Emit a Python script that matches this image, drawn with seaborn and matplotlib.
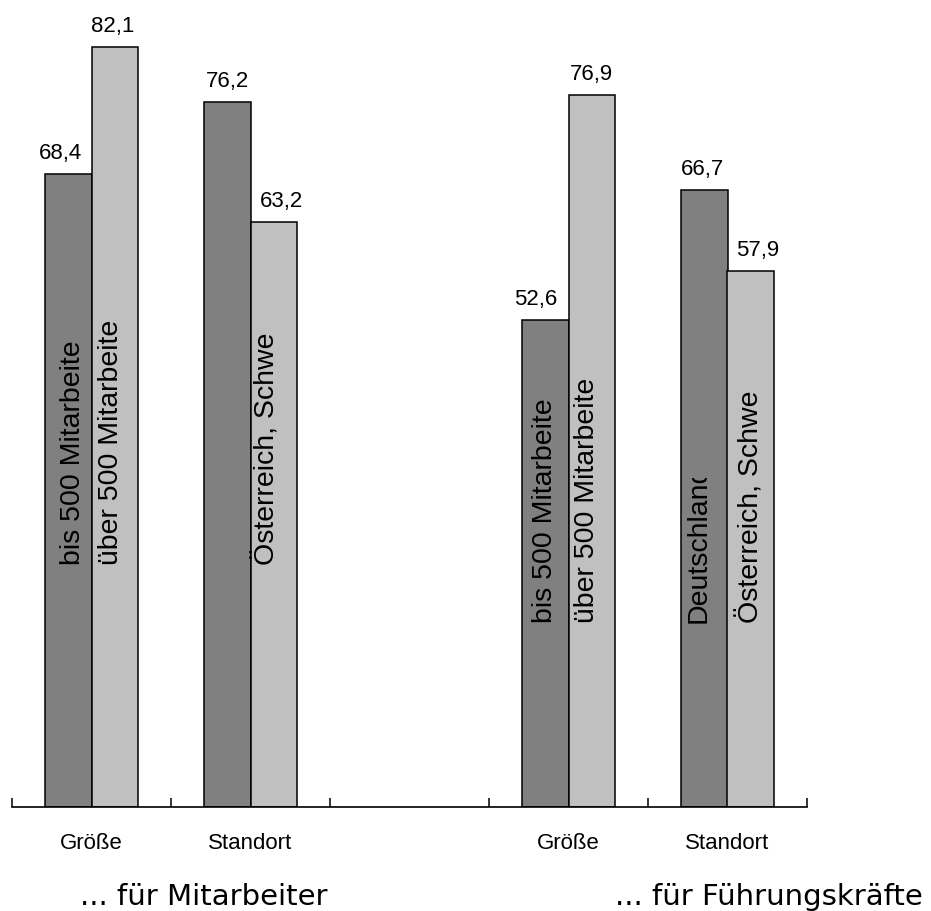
import matplotlib
matplotlib.use("Agg")
import matplotlib.pyplot as plt
from matplotlib.transforms import Bbox, TransformedBbox
import numpy as np
import pandas as pd
import seaborn as sns

# Category slots along the x axis (the middle slot stays empty as a separator)
slots = ["Mitarbeiter|Größe", "Mitarbeiter|Standort", "leer",
         "Führungskräfte|Größe", "Führungskräfte|Standort"]
slot_ticklabels = ["Größe", "Standort", "", "Größe", "Standort"]
bar_slots = ["Mitarbeiter|Größe", "Mitarbeiter|Standort",
             "Führungskräfte|Größe", "Führungskräfte|Standort"]

# Two series per slot: the smaller companies / Germany, the larger ones / AT, CH
series = ["A", "B"]
values_a = [68.4, 76.2, 52.6, 66.7]
values_b = [82.1, 63.2, 76.9, 57.9]

# Text written inside the bars
inner_a = ["bis 500 Mitarbeite", None, "bis 500 Mitarbeite", "Deutschland"]
inner_b = ["über 500 Mitarbeite", "Österreich, Schwe", "über 500 Mitarbeite", "Österreich, Schwe"]

group_titles = ["... für Mitarbeiter", "... für Führungskräfte"]

df = pd.DataFrame({
    "slot": bar_slots * 2,
    "serie": [series[0]] * 4 + [series[1]] * 4,
    "wert": values_a + values_b,
    "innen": inner_a + inner_b,
})

sns.set_theme(style="white")
plt.rcParams["font.family"] = ["Liberation Sans", "DejaVu Sans"]

W, H, DPI = 931, 912, 100
PX = 72 / DPI  # points per pixel
fig = plt.figure(figsize=(W / DPI, H / DPI), dpi=DPI)
ax_left, ax_right, ax_bottom = 12, 807, 808
ax = fig.add_axes([ax_left / W, (H - ax_bottom) / H, (ax_right - ax_left) / W, ax_bottom / H])

sns.barplot(data=df, x="slot", y="wert", hue="serie", order=slots,
            hue_order=series, palette=["#808080", "#c0c0c0"], width=0.58,
            edgecolor="black", linewidth=1.1, legend=False, ax=ax)

ax.set_xlim(-0.5, len(slots) - 0.5)
ax.set_ylim(0, 87.3)
ax.set_xlabel("")
ax.set_ylabel("")
ax.set_yticks([])
for side in ["left", "right", "top"]:
    ax.spines[side].set_visible(False)
ax.spines["bottom"].set_color("black")
ax.spines["bottom"].set_linewidth(1.2)

# Category names centred under each slot; tick marks between slots
ax.set_xticks(np.arange(len(slots)), slot_ticklabels)
ax.set_xticks(np.arange(len(slots) + 1) - 0.5, minor=True)
ax.tick_params(axis="x", which="major", length=0, pad=18, labelsize=16,
               labelcolor="black")
ax.tick_params(axis="x", which="minor", bottom=True, direction="in",
               length=6.5, width=1.1, color="black")

# Per-bar annotations: value above the bar, description inside it
text_base = {"Mitarbeiter": 26.3, "Führungskräfte": 20.0}
value_nudge = {("Mitarbeiter|Größe", "A"): -8, ("Mitarbeiter|Größe", "B"): -1.5,
               ("Mitarbeiter|Standort", "A"): 0, ("Mitarbeiter|Standort", "B"): 8,
               ("Führungskräfte|Größe", "A"): -10, ("Führungskräfte|Größe", "B"): 0,
               ("Führungskräfte|Standort", "A"): -2, ("Führungskräfte|Standort", "B"): 7}
inner_nudge = {("Mitarbeiter|Größe", "A"): 5, ("Mitarbeiter|Größe", "B"): -4,
               ("Mitarbeiter|Standort", "B"): -7,
               ("Führungskräfte|Größe", "A"): 0, ("Führungskräfte|Größe", "B"): -5,
               ("Führungskräfte|Standort", "A"): -6, ("Führungskräfte|Standort", "B"): 0}
clip_top = {("Führungskräfte|Standort", "A"): 35.6}

for level, container in zip(series, ax.containers):
    for bar in container:
        xc = bar.get_x() + bar.get_width() / 2
        slot = slots[int(round(xc))]
        row = df[(df.slot == slot) & (df.serie == level)].iloc[0]
        h = bar.get_height()
        ax.annotate(f"{row.wert:.1f}".replace(".", ","), (xc, h),
                    xytext=(value_nudge[(slot, level)] * PX, 11.5),
                    textcoords="offset points",
                    ha="center", va="baseline", fontsize=16, color="black")
        if row.innen:
            t = ax.annotate(row.innen, (xc, text_base[slot.split("|")[0]]),
                            xytext=(inner_nudge[(slot, level)] * PX, 0),
                            textcoords="offset points", rotation=90,
                            ha="center", va="bottom", fontsize=20.5, color="black")
            if (slot, level) in clip_top:
                box = Bbox([[bar.get_x(), 0],
                            [bar.get_x() + bar.get_width(), clip_top[(slot, level)]]])
                t.set_clip_box(TransformedBbox(box, ax.transData))
                t.set_clip_on(True)

# Group titles under the chart
for title, x_px in zip(group_titles, [204, 769]):
    fig.text(x_px / W, 7 / H, title, ha="center", va="baseline",
             fontsize=21, family="DejaVu Sans", color="black")

fig.savefig("out.png", dpi=DPI, facecolor="white")
